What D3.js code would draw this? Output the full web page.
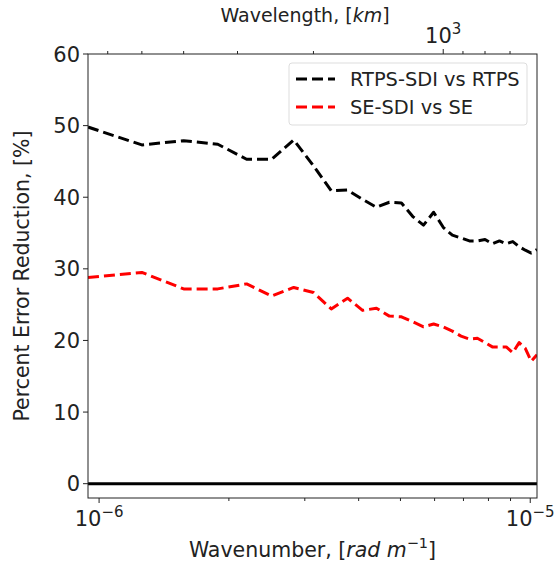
<!DOCTYPE html>
<html>
<head>
<meta charset="utf-8">
<script src="https://cdn.jsdelivr.net/npm/d3@7"></script>
<style>
  body { margin: 0; background: #fff; }
  text { font-family: "DejaVu Sans", sans-serif; fill: #222; }
</style>
</head>
<body>
<div id="chart"></div>
<script>
const width = 555;
const height = 565;

// wavenumber [rad m^-1] (x 1e-6)
const wavenumber = [0.9425, 1.2566, 1.5708, 1.8850, 2.1991, 2.5133, 2.8274, 3.1416, 3.4558, 3.7699,
  4.0841, 4.3982, 4.7124, 5.0265, 5.3407, 5.6549, 5.9690, 6.2832, 6.5973, 6.9115,
  7.2257, 7.5398, 7.8540, 8.1681, 8.4823, 8.7965, 9.1106, 9.4248, 9.7389, 10.0531, 10.3673];

const rtpsSdi = [49.8, 47.3, 47.9, 47.4, 45.3, 45.3, 48.0, 44.4, 40.9, 41.0,
  39.7, 38.6, 39.3, 39.2, 37.3, 36.1, 37.9, 35.8, 34.7, 34.3,
  33.9, 33.9, 34.1, 33.5, 33.9, 33.5, 33.8, 33.1, 32.6, 32.2, 32.7];

const seSdi = [28.8, 29.5, 27.2, 27.2, 27.9, 26.2, 27.4, 26.7, 24.4, 25.9,
  24.2, 24.5, 23.4, 23.3, 22.6, 21.9, 22.3, 21.9, 21.3, 20.6,
  20.2, 20.3, 19.7, 19.1, 19.1, 19.1, 18.3, 19.7, 18.9, 17.1, 18.0];

const yTicks = [0, 10, 20, 30, 40, 50, 60];
const xMajor = [1e-6, 1e-5];
const xMinor = [2e-6, 3e-6, 4e-6, 5e-6, 6e-6, 7e-6, 8e-6, 9e-6];
const topMajor = [1000];
const topMinor = [6000, 5000, 4000, 3000, 2000, 900, 800, 700];

const series = [
  { name: "RTPS-SDI vs RTPS", values: rtpsSdi, color: "#000" },
  { name: "SE-SDI vs SE", values: seSdi, color: "#ff0000" }
];

const margin = { left: 88, right: 18, top: 54, bottom: 67 };
const x0 = margin.left, x1 = width - margin.right;
const y0 = margin.top, y1 = height - margin.bottom;

const kmin = wavenumber[0] * 1e-6, kmax = wavenumber[wavenumber.length - 1] * 1e-6;
const x = d3.scaleLog().domain([kmin, kmax]).range([x0, x1]);
// wavelength in km = 2*pi / k / 1000
const xTop = d3.scaleLog().domain([2 * Math.PI / kmin / 1000, 2 * Math.PI / kmax / 1000]).range([x0, x1]);
const y = d3.scaleLinear().domain([-2, 60]).range([y1, y0]);

const svg = d3.select("#chart").append("svg")
  .attr("width", width)
  .attr("height", height);

// zero line
svg.append("line")
  .attr("x1", x0).attr("x2", x1)
  .attr("y1", y(0)).attr("y2", y(0))
  .attr("stroke", "#000").attr("stroke-width", 3);

// series lines
const line = d3.line()
  .x((d, i) => x(wavenumber[i] * 1e-6))
  .y(d => y(d));

svg.append("clipPath").attr("id", "clip")
  .append("rect").attr("x", x0).attr("y", y0).attr("width", x1 - x0).attr("height", y1 - y0);

svg.append("g").attr("clip-path", "url(#clip)")
  .selectAll("path")
  .data(series)
  .enter().append("path")
    .attr("d", d => line(d.values))
    .attr("fill", "none")
    .attr("stroke", d => d.color)
    .attr("stroke-width", 3)
    .attr("stroke-dasharray", "11,5")
    .attr("stroke-linejoin", "round");

// frame
svg.append("rect")
  .attr("x", x0).attr("y", y0)
  .attr("width", x1 - x0).attr("height", y1 - y0)
  .attr("fill", "none").attr("stroke", "#222").attr("stroke-width", 1);

// y axis ticks
const yg = svg.append("g");
yTicks.forEach(t => {
  yg.append("line").attr("x1", x0 - 5).attr("x2", x0)
    .attr("y1", y(t)).attr("y2", y(t)).attr("stroke", "#222");
  yg.append("text").attr("x", x0 - 8).attr("y", y(t)).attr("dy", "0.36em")
    .attr("text-anchor", "end").attr("font-size", 21).text(t);
});

// bottom axis
const xg = svg.append("g");
xMinor.forEach(t => {
  xg.append("line").attr("x1", x(t)).attr("x2", x(t))
    .attr("y1", y1).attr("y2", y1 + 3).attr("stroke", "#222");
});
xMajor.forEach(t => {
  xg.append("line").attr("x1", x(t)).attr("x2", x(t))
    .attr("y1", y1).attr("y2", y1 + 5).attr("stroke", "#222");
  const exp = Math.round(Math.log10(t));
  const lab = xg.append("text").attr("x", x(t)).attr("y", y1 + 28)
    .attr("text-anchor", "middle").attr("font-size", 21);
  lab.append("tspan").text("10");
  lab.append("tspan").attr("dy", -9).attr("font-size", 15).text("\u2212" + Math.abs(exp));
});

// top axis
const tg = svg.append("g");
topMinor.forEach(t => {
  tg.append("line").attr("x1", xTop(t)).attr("x2", xTop(t))
    .attr("y1", y0).attr("y2", y0 - 3).attr("stroke", "#222");
});
topMajor.forEach(t => {
  tg.append("line").attr("x1", xTop(t)).attr("x2", xTop(t))
    .attr("y1", y0).attr("y2", y0 - 5).attr("stroke", "#222");
  const lab = tg.append("text").attr("x", xTop(t)).attr("y", y0 - 11)
    .attr("text-anchor", "middle").attr("font-size", 21);
  lab.append("tspan").text("10");
  lab.append("tspan").attr("dy", -9).attr("font-size", 15).text(Math.round(Math.log10(t)));
});

// axis labels
const xl = svg.append("text").attr("x", (x0 + x1) / 2).attr("y", 557)
  .attr("text-anchor", "middle").attr("font-size", 20.5);
xl.append("tspan").text("Wavenumber, [");
xl.append("tspan").attr("font-style", "italic").text("rad m");
xl.append("tspan").attr("dy", -9).attr("font-size", 14.5).text("\u22121");
xl.append("tspan").attr("dy", 9).text("]");

const tl = svg.append("text").attr("x", 305).attr("y", 22)
  .attr("text-anchor", "middle").attr("font-size", 19);
tl.append("tspan").text("Wavelength, [");
tl.append("tspan").attr("font-style", "italic").text("km");
tl.append("tspan").text("]");

svg.append("text")
  .attr("transform", `translate(29,${(y0 + y1) / 2}) rotate(-90)`)
  .attr("text-anchor", "middle").attr("font-size", 20.5)
  .text("Percent Error Reduction, [%]");

// legend
const lg = svg.append("g").attr("transform", "translate(289,63)");
lg.append("rect").attr("width", 238).attr("height", 62).attr("rx", 3)
  .attr("fill", "#fff").attr("stroke", "#ddd");
series.forEach((s, i) => {
  const ly = 16 + i * 28;
  lg.append("line").attr("x1", 7).attr("x2", 46).attr("y1", ly).attr("y2", ly)
    .attr("stroke", s.color).attr("stroke-width", 3).attr("stroke-dasharray", "11,5");
  lg.append("text").attr("x", 61).attr("y", ly).attr("dy", "0.36em")
    .attr("font-size", 19.4).text(s.name);
});
</script>
</body>
</html>
